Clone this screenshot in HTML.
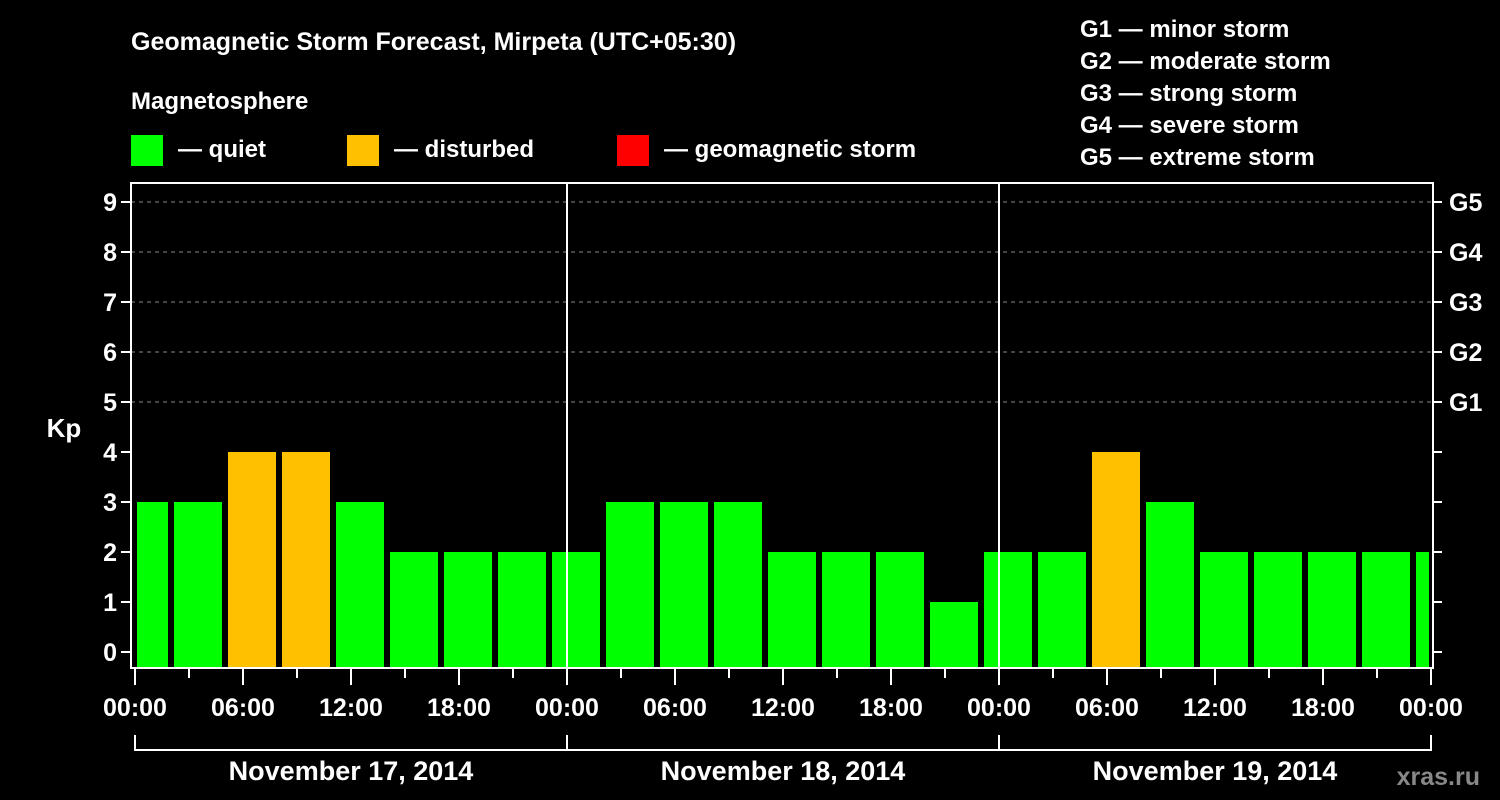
<!DOCTYPE html>
<html><head><meta charset="utf-8"><style>
html,body{margin:0;padding:0;background:#000;}
svg{display:block;font-family:"Liberation Sans",Arial,sans-serif;font-weight:bold;}
</style></head><body>
<svg id="chart" width="1500" height="800" viewBox="0 0 1500 800">
<rect x="0" y="0" width="1500" height="800" fill="#000"/>
<text x="131" y="50" fill="#fff" font-size="25">Geomagnetic Storm Forecast, Mirpeta (UTC+05:30)</text>
<text x="131" y="109" fill="#fff" font-size="24">Magnetosphere</text>
<g><rect x="131" y="135" width="32" height="31" fill="#00ff00"/><text x="178" y="157" fill="#fff" font-size="24">— quiet</text></g>
<g><rect x="347" y="135" width="32" height="31" fill="#ffc000"/><text x="394" y="157" fill="#fff" font-size="24">— disturbed</text></g>
<g><rect x="617" y="135" width="32" height="31" fill="#ff0000"/><text x="664" y="157" fill="#fff" font-size="24">— geomagnetic storm</text></g>
<g fill="#fff" font-size="24">
<text x="1080" y="37">G1 — minor storm</text>
<text x="1080" y="69">G2 — moderate storm</text>
<text x="1080" y="101">G3 — strong storm</text>
<text x="1080" y="133">G4 — severe storm</text>
<text x="1080" y="165">G5 — extreme storm</text>
</g>
<text x="64" y="437" fill="#fff" font-size="26" text-anchor="middle">Kp</text>
<text x="1480" y="785" fill="#888" font-size="25" text-anchor="end">xras.ru</text>
<g id="g"></g>
</svg>
<script>
const kpValues=[3,3,4,4,3,2,2,2,2,3,3,3,2,2,2,1,2,2,4,3,2,2,2,2,2];
const yTicks=[0,1,2,3,4,5,6,7,8,9];
const gLabels=["G1","G2","G3","G4","G5"];
const timeLabels=["00:00","06:00","12:00","18:00"];
const dayLabels=["November 17, 2014","November 18, 2014","November 19, 2014"];
const NS="http://www.w3.org/2000/svg";
const g=document.getElementById('g');
const X0=135,HOUR=18,PL=131,PR=1433,PT=183,PB=668;
const y=v=>652-v*50;
const x=h=>X0+h*HOUR;
function mk(t,a){const e=document.createElementNS(NS,t);for(const k in a)e.setAttribute(k,a[k]);g.appendChild(e);return e;}
// bars: slots start at hour 2 + 3k, first slot partial
kpValues.forEach((v,i)=>{
  let s=x(2+3*(i-1))+3, e=x(2+3*i)-3;
  s=Math.max(s,X0+2); e=Math.min(e,PR-4);
  const r=mk('rect',{x:s,y:y(v),width:e-s,height:PB-y(v),fill:v>=5?'#ff0000':(v>=4?'#ffc000':'#00ff00')});
  
  
});
// grid
[5,6,7,8,9].forEach(v=>{
  const l=mk('line',{x1:PL,x2:PR,y1:y(v),y2:y(v),stroke:'#888','stroke-dasharray':'4,4','stroke-width':1});
  
  
});
// day separators
[1,2].forEach(d=>{
  const l=mk('line',{x1:x(24*d),x2:x(24*d),y1:PT,y2:PB,stroke:'#fff','stroke-width':2});
  
  
});
// frame
const fr=mk('rect',{x:PL,y:PT,width:PR-PL,height:PB-PT,fill:'none',stroke:'#fff','stroke-width':2});


// y ticks
yTicks.forEach(v=>{
  const t=mk('line',{x1:PL-10,x2:PL,y1:y(v),y2:y(v),stroke:'#fff','stroke-width':2});
  
  
  const t2=mk('line',{x1:PR,x2:PR+9,y1:y(v),y2:y(v),stroke:'#fff','stroke-width':2});
  
  
  const tx=mk('text',{x:117,y:y(v)+9,fill:'#fff','font-size':25,'text-anchor':'end'});
  tx.textContent=v;
  
  
  if(v>=5){
    const gl=mk('text',{x:1449,y:y(v)+9,fill:'#fff','font-size':25});
    gl.textContent=gLabels[v-5];
    
    
  }
});
// x ticks
for(let h=0;h<=72;h+=3){
  const major=h%6===0;
  const t=mk('line',{x1:x(h),x2:x(h),y1:PB,y2:major?685:678,stroke:'#fff','stroke-width':2});
  
  
  if(major){
    const tx=mk('text',{x:x(h),y:716,fill:'#fff','font-size':25,'text-anchor':'middle'});
    tx.textContent=timeLabels[(h/6)%4];
    
    
  }
}
// day brackets
dayLabels.forEach((d,i)=>{
  const a=x(24*i),b=x(24*(i+1));
  const p=mk('path',{d:`M${a},735V750H${b}V735`,fill:'none',stroke:'#fff','stroke-width':2});
  
  
  const tx=mk('text',{x:(a+b)/2,y:780,fill:'#fff','font-size':27,'text-anchor':'middle'});
  tx.textContent=d;
  
  
});
</script>
</body></html>
